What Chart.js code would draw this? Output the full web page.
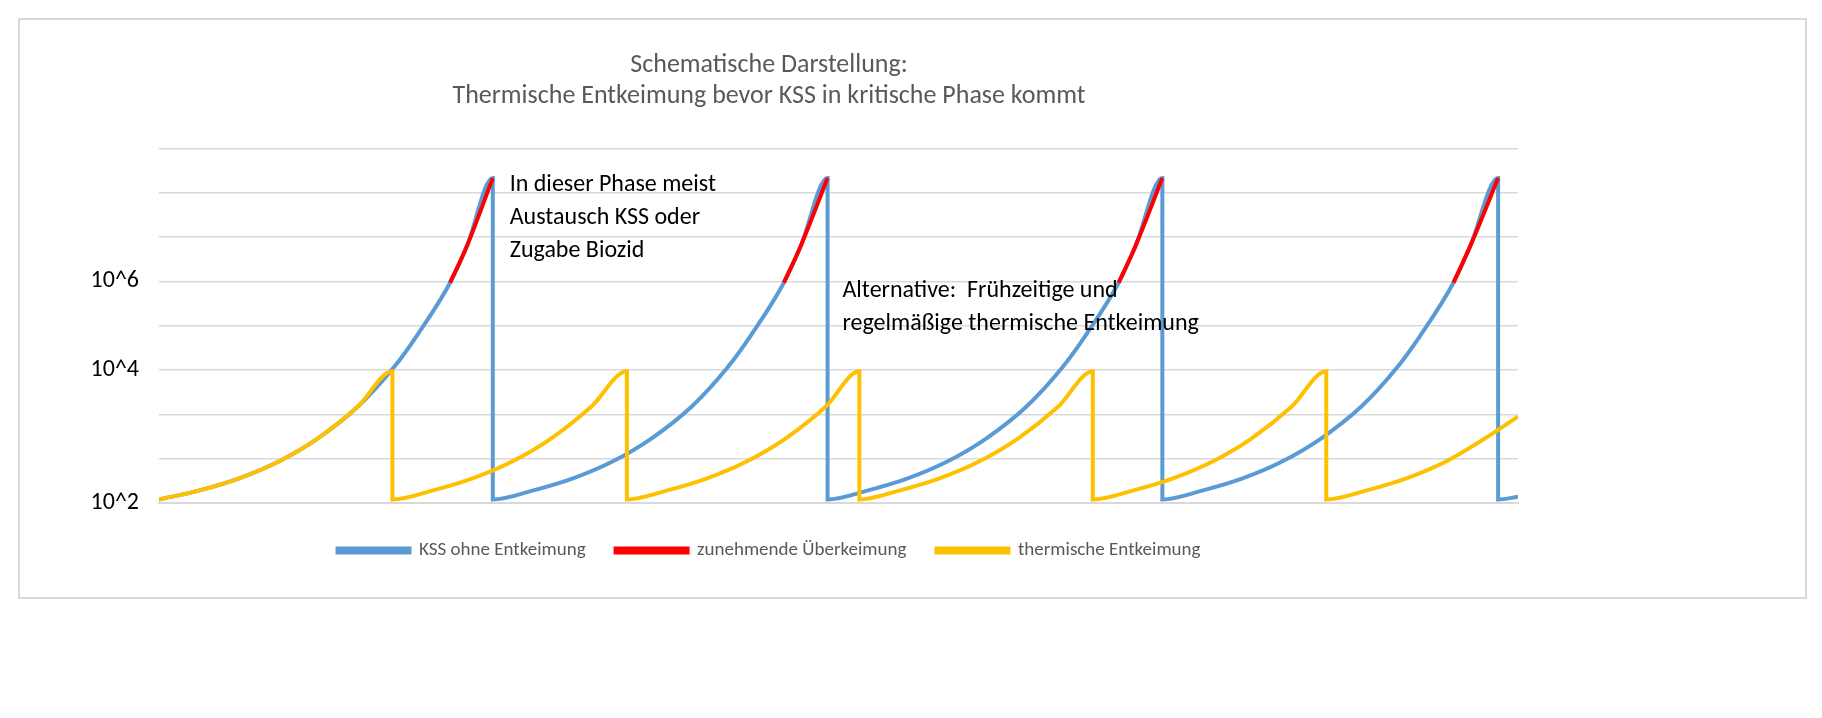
<!DOCTYPE html>
<html>
<head>
<meta charset="utf-8">
<script src="https://cdn.jsdelivr.net/npm/chart.js@4"></script>
<style>
  body { margin: 0; background: #fff; }
  #box { position: absolute; left: 18px; top: 18px; width: 1785px; height: 577px; border: 2px solid #d9d9d9; }
</style>
</head>
<body>
<div id="box"><canvas id="chart"></canvas></div>
<script>
// x = time (schematic units), y = log10 steps above 10^2 (grid steps)
const blueX = [0, 40, 80, 120, 160, 200, 236, 260, 293, 310, 336, 336,
  376, 416, 456, 496, 536, 572, 596, 629, 646, 673, 673,
  713, 753, 793, 833, 873, 909, 933, 966, 983, 1010, 1010,
  1050, 1090, 1130, 1170, 1210, 1246, 1270, 1303, 1320, 1348, 1348, 1368];
const blueY = [0.08, 0.28, 0.55, 0.93, 1.46, 2.17, 3.05, 3.79, 4.97, 5.8, 7.33, 0.08,
  0.28, 0.55, 0.93, 1.46, 2.17, 3.05, 3.79, 4.97, 5.8, 7.33, 0.08,
  0.28, 0.55, 0.93, 1.46, 2.17, 3.05, 3.79, 4.97, 5.8, 7.33, 0.08,
  0.28, 0.55, 0.93, 1.46, 2.17, 3.05, 3.79, 4.97, 5.8, 7.33, 0.08, 0.14];

const redX = [293, 310, 336, 336, 629, 646, 673, 673, 966, 983, 1010, 1010, 1303, 1320, 1348];
const redY = [4.97, 5.8, 7.33, null, 4.97, 5.8, 7.33, null, 4.97, 5.8, 7.33, null, 4.97, 5.8, 7.33];

const yellowX = [0, 40, 80, 120, 160, 200, 235, 235,
  275, 315, 355, 395, 435, 471, 471,
  511, 551, 591, 631, 671, 705, 705,
  745, 785, 825, 865, 905, 940, 940,
  980, 1020, 1060, 1100, 1140, 1175, 1175,
  1215, 1255, 1295, 1335, 1368];
const yellowY = [0.08, 0.28, 0.55, 0.93, 1.46, 2.17, 2.97, 0.08,
  0.28, 0.55, 0.93, 1.46, 2.17, 2.97, 0.08,
  0.28, 0.55, 0.93, 1.46, 2.17, 2.97, 0.08,
  0.28, 0.55, 0.93, 1.46, 2.17, 2.97, 0.08,
  0.28, 0.55, 0.93, 1.46, 2.17, 2.97, 0.08,
  0.28, 0.55, 0.93, 1.46, 1.95];

const tickNames = { 0: '10^2', 3: '10^4', 5: '10^6' };

const notes = [
  { x: 353, y: 7.45, lines: ['In dieser Phase meist', 'Austausch KSS oder', 'Zugabe Biozid'] },
  { x: 688, y: 5.05, lines: ['Alternative:  Frühzeitige und', 'regelmäßige thermische Entkeimung'] }
];

const pts = (xs, ys) => xs.map((x, i) => ({ x: x, y: ys[i] }));

const notePlugin = {
  id: 'notes',
  afterDatasetsDraw(chart) {
    const c = chart.ctx, xs = chart.scales.x, ys = chart.scales.y;
    c.save();
    c.fillStyle = '#000';
    c.font = '24px Calibri, Carlito, "Open Sans", sans-serif';
    c.textBaseline = 'top';
    notes.forEach(n => {
      n.lines.forEach((l, i) => c.fillText(l, xs.getPixelForValue(n.x), ys.getPixelForValue(n.y) + i * 33));
    });
    c.restore();
  }
};

const lineOpts = { borderWidth: 4, pointRadius: 0, cubicInterpolationMode: 'monotone' };

new Chart(document.getElementById('chart'), {
  type: 'line',
  data: {
    datasets: [
      { label: 'KSS ohne Entkeimung', data: pts(blueX, blueY), borderColor: '#5b9bd5', backgroundColor: '#5b9bd5', order: 3, ...lineOpts },
      { label: 'zunehmende Überkeimung', data: pts(redX, redY), borderColor: '#ff0000', backgroundColor: '#ff0000', order: 2, ...lineOpts },
      { label: 'thermische Entkeimung', data: pts(yellowX, yellowY), borderColor: '#ffc000', backgroundColor: '#ffc000', order: 1, ...lineOpts }
    ]
  },
  options: {
    responsive: true,
    maintainAspectRatio: false,
    animation: false,
    layout: { padding: { left: 0, right: 287, top: 10, bottom: 27 } },
    plugins: {
      title: {
        display: true,
        text: ['Schematische Darstellung:', 'Thermische Entkeimung bevor KSS in kritische Phase kommt'],
        color: '#595959',
        font: { size: 26, weight: 'normal', family: 'Calibri, Carlito, "Open Sans", sans-serif' },
        padding: { top: 20, bottom: 36 },
        lineHeight: 1.3
      },
      legend: {
        position: 'bottom',
        labels: { color: '#595959', boxWidth: 72, boxHeight: 4, padding: 30,
          sort: (a, b) => a.datasetIndex - b.datasetIndex,
          font: { size: 19, family: 'Calibri, Carlito, "Open Sans", sans-serif' } }
      },
      tooltip: { enabled: false }
    },
    scales: {
      x: { type: 'linear', min: 0, max: 1368, ticks: { display: false }, grid: { display: false }, border: { color: '#d9d9d9', width: 2 } },
      y: {
        min: 0, max: 8,
        ticks: { stepSize: 1, autoSkip: false, color: '#000', padding: 20,
          font: { size: 24, family: 'Calibri, Carlito, "Open Sans", sans-serif' },
          callback: v => tickNames[v] || '' },
        grid: { color: '#d9d9d9', lineWidth: 1.5, drawTicks: false },
        border: { display: false },
        afterFit: s => { s.width = 139; }
      }
    }
  },
  plugins: [notePlugin]
});
</script>
</body>
</html>
